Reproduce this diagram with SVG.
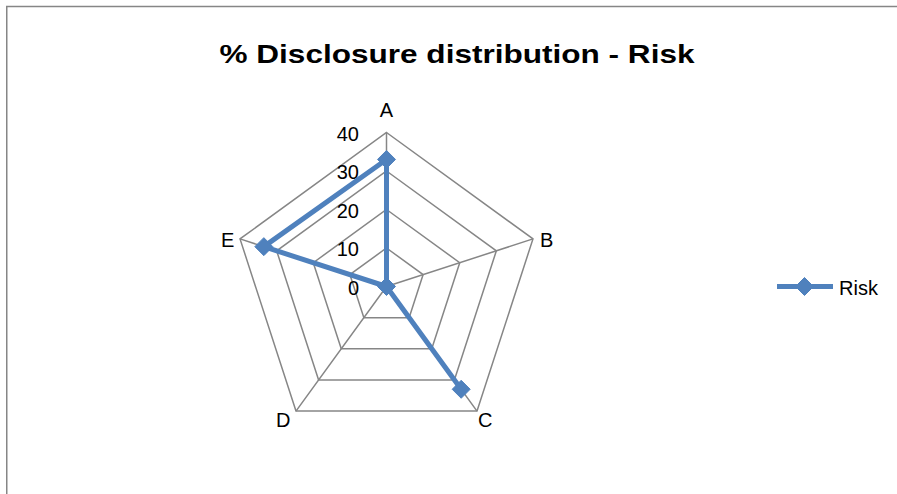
<svg xmlns="http://www.w3.org/2000/svg" width="897" height="494" viewBox="0 0 897 494">
<style>
.grid{fill:none;stroke:#868686;stroke-width:1.5}
.lbl{font-family:"Liberation Sans",Arial,sans-serif;font-size:20px;fill:#000}
.ttl{font-family:"Liberation Sans",Arial,sans-serif;font-size:25px;font-weight:bold;fill:#000}
.ser{fill:none;stroke:#4F81BD;stroke-width:5;stroke-linejoin:round}
.mk{fill:#4F81BD;stroke:#4F81BD;stroke-width:1}
</style>
<defs>
<path id="dia" d="M0,-9 L9,0 L0,9 L-9,0 Z"/>
</defs>
<rect x="0" y="0" width="897" height="494" fill="#fff"/>
<rect x="6.75" y="6.5" width="900" height="500" fill="none" stroke="#868686" stroke-width="1.5"/>
<text class="ttl" x="457" y="63" text-anchor="middle" textLength="475" lengthAdjust="spacingAndGlyphs">% Disclosure distribution - Risk</text>
<g id="grid">
<polygon class="grid" points="386.5,132.5 532.97,238.91 477.02,411.09 295.98,411.09 240.03,238.91"/>
<polygon class="grid" points="386.5,171 496.35,250.81 454.39,379.94 318.61,379.94 276.65,250.81"/>
<polygon class="grid" points="386.5,209.5 459.73,262.71 431.76,348.79 341.24,348.79 313.27,262.71"/>
<polygon class="grid" points="386.5,248 423.12,274.6 409.13,317.65 363.87,317.65 349.88,274.6"/>
<path class="grid" d="M386.5,286.5 L386.5,132.5 M386.5,286.5 L532.97,238.91 M386.5,286.5 L477.02,411.09 M386.5,286.5 L295.98,411.09 M386.5,286.5 L240.03,238.91"/>
</g>
<g id="ticks">
<text class="lbl" x="359" y="141" text-anchor="end">40</text>
<text class="lbl" x="359" y="179" text-anchor="end">30</text>
<text class="lbl" x="359" y="218" text-anchor="end">20</text>
<text class="lbl" x="359" y="256" text-anchor="end">10</text>
<text class="lbl" x="359" y="295" text-anchor="end">0</text>
</g>
<g id="axis-A"><text class="lbl" x="386.5" y="117" text-anchor="middle">A</text></g>
<g id="axis-B"><text class="lbl" x="540" y="247">B</text></g>
<g id="axis-C"><text class="lbl" x="478" y="427">C</text></g>
<g id="axis-D"><text class="lbl" x="276" y="427">D</text></g>
<g id="axis-E"><text class="lbl" x="221" y="247">E</text></g>
<g id="series-risk">
<path class="ser" d="M386.5,159.45 L386.5,286.5 L461.18,389.28 L386.5,286.5 L263.83,246.65 Z"/>
<use href="#dia" class="mk" x="386.5" y="159.45"/>
<use href="#dia" class="mk" x="386.5" y="286.5"/>
<use href="#dia" class="mk" x="461.18" y="389.28"/>
<use href="#dia" class="mk" x="263.83" y="246.65"/>
</g>
<g id="legend">
<line x1="777" y1="286.5" x2="833" y2="286.5" stroke="#4F81BD" stroke-width="5"/>
<use href="#dia" class="mk" x="804.5" y="286.5"/>
<text class="lbl" x="839" y="295">Risk</text>
</g>
</svg>
